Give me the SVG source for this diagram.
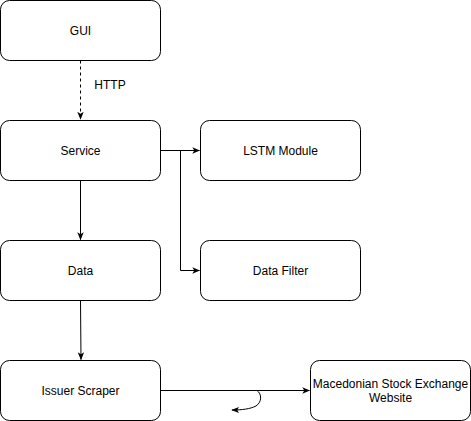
<svg xmlns="http://www.w3.org/2000/svg" width="471" height="421" viewBox="0 0 471 421">
<style>
.n{fill:#fff;stroke:#000;stroke-width:1}
.t{font-family:"Liberation Sans",Arial,sans-serif;font-size:12px;fill:#000;text-anchor:middle}
.c{fill:none;stroke:#000;stroke-width:1}
</style>
<defs>
<marker id="a" viewBox="0 0 10 10" refX="9" refY="5" markerWidth="8" markerHeight="8" markerUnits="userSpaceOnUse" orient="auto">
<path d="M0,1 L10,5 L0,9 L2.5,5 Z" fill="#000"/>
</marker>
</defs>
<rect width="471" height="421" fill="#fff"/>
<g id="connectors">
<path class="c" d="M80.5,60.5 V119" stroke-dasharray="3,3" marker-end="url(#a)"/>
<text class="t" x="110" y="89" text-anchor="middle">HTTP</text>
<path class="c" d="M160.5,150.5 H199.5" marker-end="url(#a)"/>
<path class="c" d="M180.5,150.5 V270.5 H199.5" marker-end="url(#a)"/>
<path class="c" d="M80.5,180.5 V239.5" marker-end="url(#a)"/>
<path class="c" d="M80.5,300.5 L81,359.5" marker-end="url(#a)"/>
<path class="c" d="M160.5,390.5 H309.5" marker-end="url(#a)"/>
<path class="c" d="M257,390.5 C262,394 262,402 256,406 C250,409 242,410 232,410" marker-end="url(#a)"/>
</g>
<g id="gui"><rect class="n" x="0.5" y="0.5" width="160" height="60" rx="9"/><text class="t" x="80.5" y="34.5">GUI</text></g>
<g id="service"><rect class="n" x="0.5" y="120.5" width="160" height="60" rx="9"/><text class="t" x="80.5" y="154.5">Service</text></g>
<g id="data"><rect class="n" x="0.5" y="240.5" width="160" height="60" rx="9"/><text class="t" x="80.5" y="274.5">Data</text></g>
<g id="issuer"><rect class="n" x="0.5" y="360.5" width="160" height="60" rx="9"/><text class="t" x="80.5" y="394.5">Issuer Scraper</text></g>
<g id="lstm"><rect class="n" x="200.5" y="120.5" width="160" height="60" rx="9"/><text class="t" x="280.5" y="154.5">LSTM Module</text></g>
<g id="filter"><rect class="n" x="200.5" y="240.5" width="160" height="60" rx="9"/><text class="t" x="280.5" y="274.5">Data Filter</text></g>
<g id="mse"><rect class="n" x="310.5" y="360.5" width="160" height="60" rx="9"/><text class="t" x="390.5" y="388">Macedonian Stock Exchange</text><text class="t" x="390.5" y="402">Website</text></g>
</svg>
